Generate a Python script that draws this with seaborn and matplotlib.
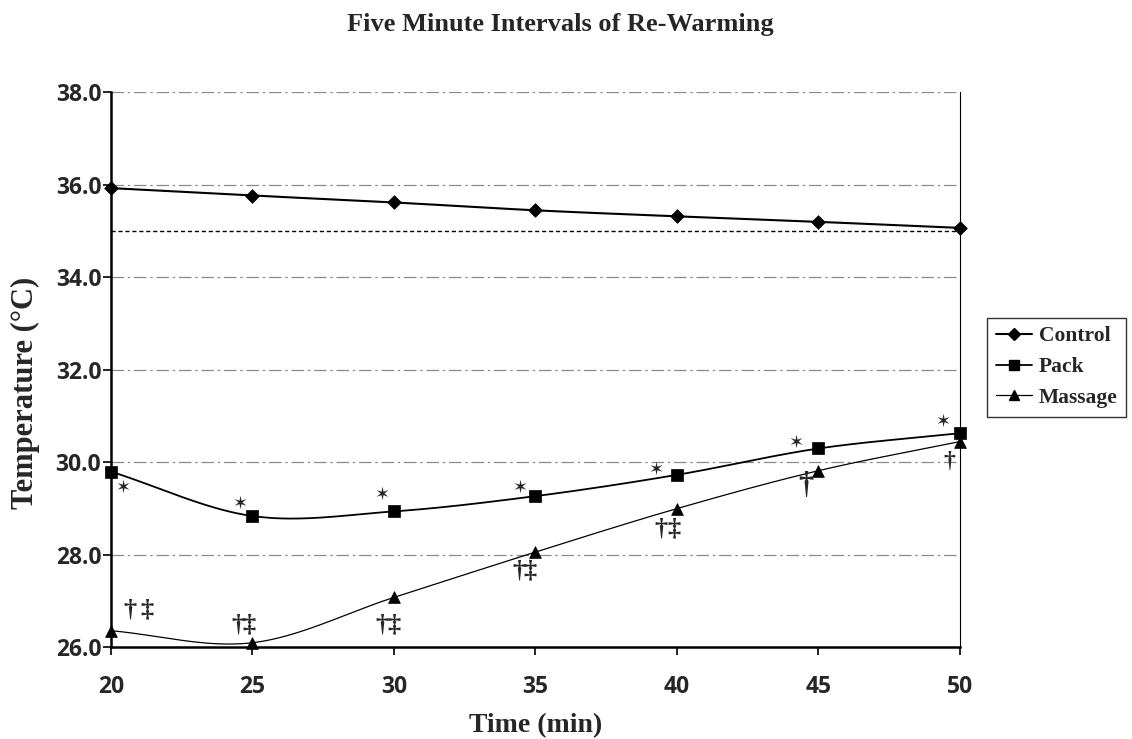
import numpy as np
import pandas as pd
import matplotlib
matplotlib.use("Agg")
import matplotlib.pyplot as plt
from matplotlib.lines import Line2D
import seaborn as sns

# Datos
tiempo = [20, 25, 30, 35, 40, 45, 50]
control = [35.93, 35.77, 35.62, 35.45, 35.32, 35.20, 35.07]
pack = [29.80, 28.84, 28.94, 29.27, 29.73, 30.30, 30.63]
massage = [26.36, 26.10, 27.08, 28.06, 29.00, 29.82, 30.45]
umbral = 35.0

# Marcas de significancia (x, y, símbolo)
marcas_pack_x = [20.43, 24.56, 29.57, 34.44, 39.25, 44.21, 49.39]
marcas_pack_y = [29.46, 29.11, 29.29, 29.45, 29.83, 30.43, 30.88]
marcas_mas_x = [20.67, 21.26, 24.50, 24.89, 29.57, 30.00, 34.41, 34.80, 39.42, 39.90, 44.56, 49.62]
marcas_mas_y = [26.80, 26.80, 26.48, 26.48, 26.48, 26.48, 27.66, 27.66, 28.57, 28.57, 29.50, 30.02]
marcas_mas_txt = ['†', '‡', '†', '‡', '†', '‡', '†', '‡', '†', '‡', '†', '†']
marcas_mas_tam = [19, 19, 19, 19, 19, 19, 19, 19, 19, 19, 22, 17]


def suavizar(x, y, n=40):
    # curva tipo Catmull-Rom, parecida al suavizado de Excel
    x = np.asarray(x, float)
    y = np.asarray(y, float)
    px = np.concatenate([[2 * x[0] - x[1]], x, [2 * x[-1] - x[-2]]])
    py = np.concatenate([[2 * y[0] - y[1]], y, [2 * y[-1] - y[-2]]])
    xs, ys = [], []
    t = np.linspace(0, 1, n)
    for i in range(1, len(px) - 2):
        for arr, out in ((px, xs), (py, ys)):
            p0, p1, p2, p3 = arr[i - 1], arr[i], arr[i + 1], arr[i + 2]
            out.extend(0.5 * ((2 * p1) + (-p0 + p2) * t
                              + (2 * p0 - 5 * p1 + 4 * p2 - p3) * t ** 2
                              + (-p0 + 3 * p1 - 3 * p2 + p3) * t ** 3))
    return np.array(xs), np.array(ys)


sns.set_style("white")
plt.rcParams['font.family'] = ['Liberation Serif', 'DejaVu Serif']

fig = plt.figure(figsize=(11.32, 7.39), dpi=100)
ax = fig.add_axes([0.098, 0.124, 0.750, 0.751])

# líneas de cuadrícula
for g in [28, 30, 32, 34, 36, 38]:
    ax.axhline(g, color='#8a8a8a', lw=0.9, ls=(0, (10, 3, 2, 3)), zorder=0)

# línea de referencia 35 °C
ax.plot([20, 50], [umbral, umbral], color='black', lw=1.0, ls=(0, (3, 2)), zorder=1)

series = [('Control', control, 'D', 7, 1.5),
          ('Pack', pack, 's', 8.5, 1.3),
          ('Massage', massage, '^', 8.5, 0.9)]

for nombre, vals, mk, ms, lw in series:
    xs, ys = suavizar(tiempo, vals)
    sns.lineplot(x=xs, y=ys, ax=ax, color='black', lw=lw, sort=False,
                 estimator=None, zorder=2)
    sns.scatterplot(x=tiempo, y=vals, ax=ax, marker=mk, s=ms ** 2,
                    color='black', edgecolor='black', linewidth=0.5,
                    zorder=3, clip_on=False)

# símbolos de significancia
for x, y in zip(marcas_pack_x, marcas_pack_y):
    ax.text(x, y, '✶', fontsize=13, ha='center', va='center',
            family=['DejaVu Sans'])
for x, y, s, f in zip(marcas_mas_x, marcas_mas_y, marcas_mas_txt, marcas_mas_tam):
    ax.text(x, y, s, fontsize=f, fontweight='bold', ha='center', va='center')

ax.set_xlim(20, 50)
ax.set_ylim(26, 38)
ax.set_xticks(tiempo)
ax.set_yticks([26, 28, 30, 32, 34, 36, 38])
ax.set_yticklabels(['%.1f' % v for v in [26, 28, 30, 32, 34, 36, 38]],
                   family=['Open Sans', 'DejaVu Sans'], fontweight='bold',
                   fontsize=16.5)
ax.set_xticklabels([str(t) for t in tiempo], fontsize=16.5, fontweight='bold',
                   family=['Open Sans', 'DejaVu Sans'])
ax.tick_params(axis='both', direction='out', length=6, width=1.2,
               color='black', pad=1, bottom=True, left=True)
ax.tick_params(axis='x', pad=14)

for lado in ['left', 'bottom']:
    ax.spines[lado].set_linewidth(1.8)
    ax.spines[lado].set_color('black')
ax.spines['right'].set_linewidth(0.8)
ax.spines['right'].set_color('black')
ax.spines['top'].set_visible(False)

ax.set_xlabel('Time (min)', fontsize=20, fontweight='bold')
ax.xaxis.set_label_coords(0.5, -0.118)
ax.set_ylabel('Temperature (°C)', fontsize=22, fontweight='bold')
ax.yaxis.set_label_coords(-0.083, 0.458)
fig.text(0.4947, 0.9675, 'Five Minute Intervals of Re-Warming', fontsize=19,
         fontweight='bold', ha='center', va='center')

handles = [Line2D([], [], color='black', lw=lw, marker=mk, markersize=ms * 0.85)
           for _, _, mk, ms, lw in series]
leg = ax.legend(handles, [s[0] for s in series], loc='center left',
                bbox_to_anchor=(1.032, 0.505), frameon=True, fancybox=False,
                handlelength=1.7, handletextpad=0.3, borderpad=0.4,
                borderaxespad=0, labelspacing=0.5,
                prop={'weight': 'bold', 'size': 15.5})
leg.get_frame().set_edgecolor('black')
leg.get_frame().set_linewidth(1.0)

plt.savefig('out.png', dpi=100)
